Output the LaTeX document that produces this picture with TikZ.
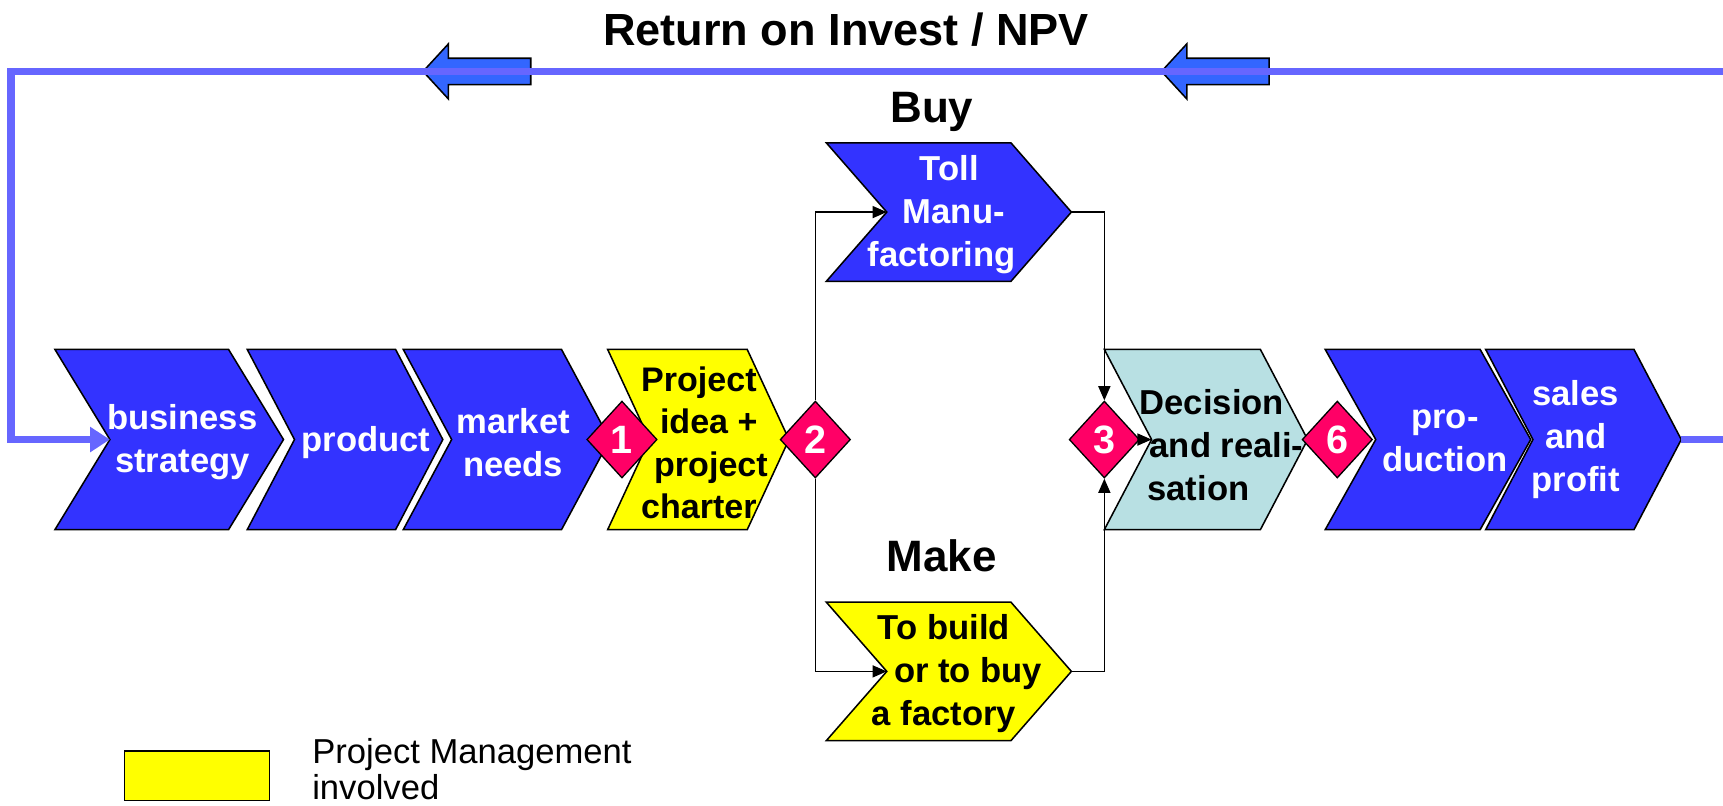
\documentclass[tikz,border=0pt]{standalone}
\usepackage{fontspec}
\setmainfont{Liberation Sans}
\usetikzlibrary{shapes.geometric,arrows.meta}
\definecolor{chblue}{HTML}{3333FF}
\definecolor{arblue}{HTML}{3366FF}
\definecolor{lpblue}{HTML}{6666FF}
\definecolor{pmyel}{HTML}{FFFF00}
\definecolor{tealx}{HTML}{B8E0E3}
\definecolor{dpink}{HTML}{FF0066}
\newcommand\chevr[7]{%
  \draw[chev,fill=#7] ({#2},{#5-#6}) -- ({#3},{#5-#6}) -- ({#4},{#5}) -- ({#3},{#5+#6}) -- ({#2},{#5+#6}) -- ({#2+#4-#3},{#5}) -- cycle;
  \coordinate (#1n) at ({#2+#4-#3},{#5});
  \coordinate (#1t) at ({#4},{#5});
}
\begin{document}
\begin{tikzpicture}[x=1pt,y=-1pt,
  chev/.style={draw=black,line width=1.4pt,line join=miter},
  wtxt/.style={text=white,font={\fontsize{31.5}{39}\selectfont\bfseries},align=center,inner sep=0pt},
  btxt/.style={text=black,font={\fontsize{31.5}{39}\selectfont\bfseries},align=center,inner sep=0pt},
  dia/.style={diamond,draw=black,line width=1.2pt,fill=dpink,minimum width=64pt,minimum height=70pt,inner sep=0pt,text=white,font={\fontsize{36}{40}\selectfont\bfseries}},
  conn/.style={draw=black,line width=1.4pt,-{Triangle[length=13pt,width=11pt]}},
  loopl/.style={draw=lpblue,line width=6.5pt,line join=miter},
  barrow/.style={draw=black,line width=1.4pt,fill=arblue,line join=miter},
  head/.style={font={\fontsize{40}{44}\selectfont\bfseries},inner sep=0pt}]
\useasboundingbox (0,0) rectangle (1568,733);

% title and labels
\node[head,font={\fontsize{41}{44}\selectfont\bfseries}] (title) at (770,27) {Return on Invest / NPV};
\node[head] (buy) at (848,102) {Buy};
\node[head] (make) at (857,506) {Make};

% top block arrows
\draw[barrow] (385,65) -- (408,40) -- (408,53) -- (483,53) -- (483,77) -- (408,77) -- (408,90) -- cycle;
\draw[barrow] (1057,65) -- (1080,40) -- (1080,53) -- (1155,53) -- (1155,77) -- (1080,77) -- (1080,90) -- cycle;

% chevrons
\chevr{bs}{50}{208}{258}{400}{82}{chblue}
\chevr{pr}{225}{360}{403}{400}{82}{chblue}
\chevr{mk}{367}{511}{555}{400}{82}{chblue}
\chevr{pj}{553}{680}{718}{400}{82}{pmyel}
\chevr{dc}{1005}{1147}{1190}{400}{82}{tealx}
\chevr{pd}{1206}{1347}{1393}{400}{82}{chblue}
\chevr{sl}{1352}{1487}{1530}{400}{82}{chblue}
\chevr{tl}{752}{920}{975}{193}{63}{chblue}
\chevr{tb}{752}{920}{975}{611}{63}{pmyel}

% texts
\node[wtxt] (tbs) at (166,402) {business\\strategy};
\node[wtxt] (tpr) at (333,403) {product};
\node[wtxt] (tmk) at (467,403) {market\\needs};
\node[btxt,font={\fontsize{31}{38.5}\selectfont\bfseries}] (tpj) at (636,403) {Project\\\hspace*{18pt}idea +\\\hspace*{22pt}project\\charter};
\node[wtxt] (ttl) at (857,195) {\hspace*{14pt}Toll\\\hspace*{22pt}Manu-\\factoring};
\node[btxt] (ttb) at (859,613) {To build\\\hspace*{44pt}or to buy\\a factory};
\node[btxt,align=left,anchor=west] (tdc) at (1037,405) {Decision\\\hspace*{9pt}and reali-\\\hspace*{7pt}sation};
\node[wtxt] (tpd) at (1315,401) {pro-\\duction};
\node[wtxt] (tsl) at (1434,400) {sales\\and\\profit};

% loop line
\coordinate (re1) at (1568,65);
\coordinate (lc1) at (10,65);
\coordinate (lc2) at (10,400);
\coordinate (re2) at (1568,400);
\draw[loopl,-{Triangle[length=18pt,width=22pt]}] (re1) -- (lc1) -- (lc2) -- (bsn);
\draw[loopl] (slt) -- (re2);

% diamonds
\node[dia] (d1) at (566,400) {1};
\node[dia] (d2) at (742,400) {2};
\node[dia] (d3) at (1005,400) {3};
\node[dia] (d6) at (1217,400) {6};

% connectors
\draw[conn] (d2.north) |- (tln);
\draw[conn] (d2.south) |- (tbn);
\draw[conn] (tlt) -| (d3.north);
\draw[conn] (tbt) -| (d3.south);
\draw[conn] (d3.east) -- (dcn);

% legend
\node[draw=black,line width=1.2pt,fill=pmyel,minimum width=132pt,minimum height=45pt,inner sep=0pt] (leg) at (179,706) {};
\node[anchor=west,align=left,inner sep=0pt,font={\fontsize{31.5}{33}\selectfont}] (legt) at (284,700) {Project Management\\involved};
\end{tikzpicture}
\end{document}
